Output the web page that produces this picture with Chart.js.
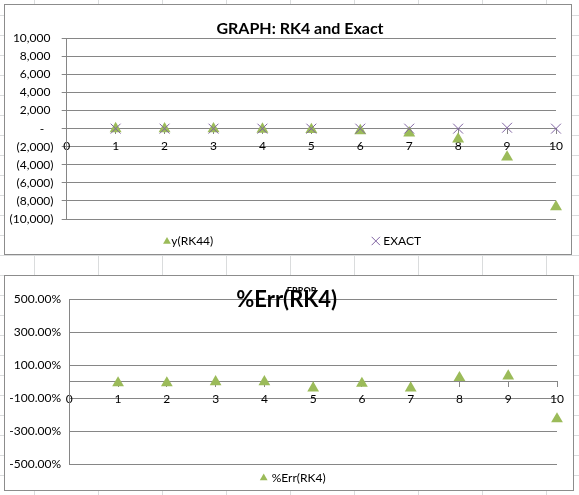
<!DOCTYPE html>
<html><head><meta charset="utf-8">
<script src="https://cdn.jsdelivr.net/npm/chart.js@4.4.0/dist/chart.umd.min.js"></script>
<style>
html,body{margin:0;padding:0;}
body{width:579px;height:495px;overflow:hidden;position:relative;background-color:#fff;
background-image:linear-gradient(to right,#dadcdd 1px,transparent 1px),linear-gradient(to bottom,#dadcdd 1px,transparent 1px);
background-size:64px 20px;background-position:34px 15px;}
.box{position:absolute;background:#fff;border:1px solid #8c8c8c;}
#b1{left:4px;top:4px;width:566px;height:249px;}
#b2{left:4px;top:275px;width:568px;height:214px;}
canvas{display:block;}
</style></head><body>
<div class="box" id="b1"><canvas id="c1" width="566" height="249"></canvas></div>
<div class="box" id="b2"><canvas id="c2" width="568" height="214"></canvas></div>
<script>
// ---- data ----
const steps = [1, 2, 3, 4, 5, 6, 7, 8, 9, 10];
const xTicks = [0, 1, 2, 3, 4, 5, 6, 7, 8, 9, 10];
const rk4Values = [-5, -15, -30, -60, -110, -230, -480, -1150, -3150, -8650];
const exactValues = [0, 0, 0, 0, 0, 0, 0, 0, 100, 0];
const errRk4Values = [-7, -7, 0, 0, -38, -10, -38, 25, 35, -225];
const yTicksTop = [-10000, -8000, -6000, -4000, -2000, 0, 2000, 4000, 6000, 8000, 10000];
const yTicksBottom = [-500, -300, -100, 100, 300, 500];
const titleTop = 'GRAPH: RK4 and Exact';
const titleBottom = '%Err(RK4)';
const titleBottomSmall = 'ERROR';

const GREEN = '#9BBB59', PURPLE = '#8064A2', GRID = '#868686';
const FONT = 'Lato';

function fmtAcct(v) {
  if (v === 0) return '-   ';
  const s = Math.abs(v).toLocaleString('en-US');
  return v < 0 ? '(' + s + ')' : s + ' ';
}
function fmtPct(v) { return v.toFixed(2) + '%'; }

function drawMarker(ctx, style, x, y, r, color) {
  ctx.save();
  ctx.fillStyle = color; ctx.strokeStyle = color; ctx.lineWidth = 1;
  ctx.beginPath();
  if (style === 'triangle') {
    let a = 0;
    ctx.moveTo(x + Math.sin(a) * r, y - Math.cos(a) * r);
    a += 2 * Math.PI / 3;
    ctx.lineTo(x + Math.sin(a) * r, y - Math.cos(a) * r);
    a += 2 * Math.PI / 3;
    ctx.lineTo(x + Math.sin(a) * r, y - Math.cos(a) * r);
    ctx.closePath(); ctx.fill();
  } else {
    const d = r * Math.SQRT1_2;
    ctx.moveTo(x - d, y - d); ctx.lineTo(x + d, y + d);
    ctx.moveTo(x + d, y - d); ctx.lineTo(x - d, y + d);
    ctx.stroke();
  }
  ctx.restore();
}

function overlayPlugin(cfg) {
  return {
    id: 'overlay',
    afterDraw(chart) {
      const ctx = chart.ctx;
      ctx.save();
      if (cfg.small) {
        ctx.save();
        ctx.beginPath();
        ctx.rect(0, 0, chart.width, cfg.small.clipY);
        ctx.clip();
        ctx.font = 'bold ' + cfg.small.size + 'px ' + FONT;
        ctx.fillStyle = '#000';
        ctx.textAlign = 'center';
        ctx.textBaseline = 'top';
        ctx.fillText(cfg.small.text, cfg.small.x, cfg.small.y);
        ctx.restore();
      }
      ctx.font = 'bold ' + cfg.title.size + 'px ' + FONT;
      ctx.fillStyle = '#000';
      ctx.textAlign = 'center';
      ctx.textBaseline = 'alphabetic';
      ctx.fillText(cfg.title.text, cfg.title.x, cfg.title.y);
      cfg.legend.forEach(it => {
        const ds = chart.data.datasets[it.ds];
        drawMarker(ctx, ds.pointStyle, it.mx, it.y, it.r, ds.borderColor);
        ctx.font = '12px ' + FONT;
        ctx.fillStyle = '#000';
        ctx.textAlign = 'left';
        ctx.textBaseline = 'middle';
        ctx.fillText(ds.label, it.tx, it.y);
      });
      ctx.restore();
    }
  };
}

function xScale(padding) {
  return {
    type: 'linear', min: 0, max: 10, position: { y: 0 },
    afterBuildTicks: s => { s.ticks = xTicks.map(v => ({ value: v })); },
    grid: { drawOnChartArea: false, drawTicks: true, tickLength: 5, color: GRID },
    border: { display: true, color: GRID, width: 1 },
    ticks: { padding: padding, color: '#000', font: { family: FONT, size: 12 }, maxRotation: 0, autoSkip: false, callback: v => String(v) }
  };
}

// ---- top chart ----
new Chart(document.getElementById('c1'), {
  type: 'scatter',
  data: {
    datasets: [
      { label: 'EXACT', data: steps.map((x, i) => ({ x: x, y: exactValues[i] })),
        pointStyle: 'crossRot', pointRadius: 7, borderColor: PURPLE, backgroundColor: PURPLE,
        pointBorderWidth: 1, order: 0, clip: false },
      { label: 'y(RK44)', data: steps.map((x, i) => ({ x: x, y: rk4Values[i] })),
        pointStyle: 'triangle', pointRadius: 6.9, borderColor: GREEN, backgroundColor: GREEN,
        pointBorderWidth: 0, order: 1, clip: false }
    ]
  },
  options: {
    responsive: false, animation: false, events: [],
    layout: { padding: { left: 0, right: 15, top: 33.3, bottom: 35 } },
    plugins: { legend: { display: false }, tooltip: { enabled: false }, title: { display: false } },
    scales: {
      x: xScale(5.5),
      y: {
        min: -10000, max: 10000,
        afterBuildTicks: s => { s.ticks = yTicksTop.map(v => ({ value: v })); },
        afterFit: s => { s.width = 61.7; },
        grid: { color: GRID, drawTicks: true, tickLength: 5 },
        border: { color: GRID },
        ticks: { padding: 8.2, color: '#000', font: { family: FONT, size: 12 }, autoSkip: false, callback: v => fmtAcct(v) }
      }
    }
  },
  plugins: [overlayPlugin({
    title: { text: titleTop, size: 16, x: 295, y: 29.3 },
    legend: [
      { ds: 1, mx: 162, tx: 166.3, y: 236.5, r: 4.5 },
      { ds: 0, mx: 370.8, tx: 378.3, y: 236, r: 5.9 }
    ]
  })]
});

// ---- bottom chart ----
new Chart(document.getElementById('c2'), {
  type: 'scatter',
  data: {
    datasets: [
      { label: '%Err(RK4)', data: steps.map((x, i) => ({ x: x, y: errRk4Values[i] })),
        pointStyle: 'triangle', pointRadius: 6.8, borderColor: GREEN, backgroundColor: GREEN,
        pointBorderWidth: 0, clip: false }
    ]
  },
  options: {
    responsive: false, animation: false, events: [],
    layout: { padding: { left: 0, right: 16, top: 23.3, bottom: 25.7 } },
    plugins: { legend: { display: false }, tooltip: { enabled: false }, title: { display: false } },
    scales: {
      x: xScale(5),
      y: {
        min: -500, max: 500,
        afterBuildTicks: s => { s.ticks = yTicksBottom.map(v => ({ value: v })); },
        afterFit: s => { s.width = 64.3; },
        grid: { color: GRID, drawTicks: false },
        border: { color: GRID },
        ticks: { padding: 8.3, color: '#000', font: { family: FONT, size: 12 }, autoSkip: false, callback: v => fmtPct(v) }
      }
    }
  },
  plugins: [overlayPlugin({
    small: { text: titleBottomSmall, size: 9, x: 296.7, y: 11, clipY: 15.5 },
    title: { text: titleBottom, size: 22, x: 281.7, y: 31.3 },
    legend: [
      { ds: 0, mx: 258.7, tx: 266.7, y: 202, r: 4.5 }
    ]
  })]
});
</script>
</body></html>
